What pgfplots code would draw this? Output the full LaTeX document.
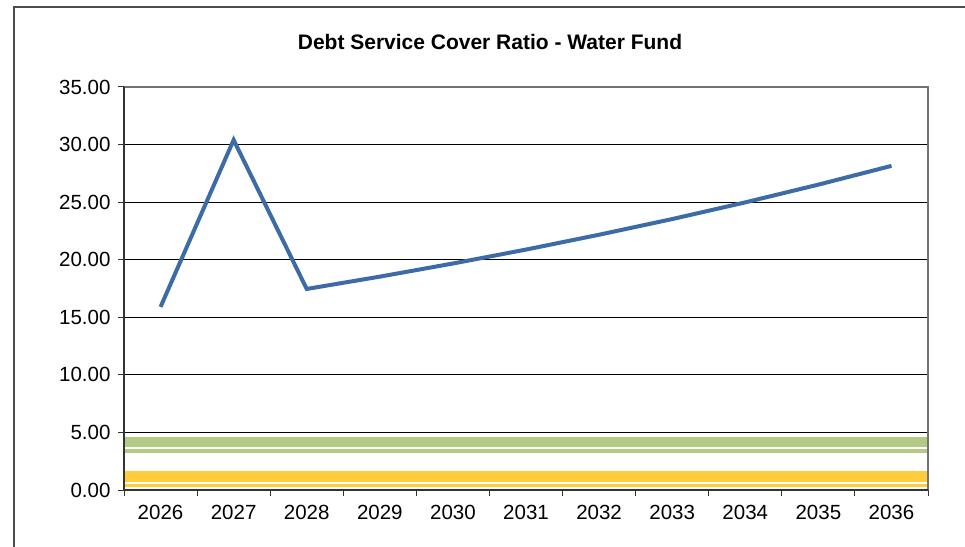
\documentclass[border=0pt]{standalone}
\usepackage{fontspec}
\setmainfont{Liberation Sans}
\usepackage{pgfplots}
\pgfplotsset{compat=1.18}
\definecolor{lineblue}{RGB}{61,107,166}
\definecolor{bandgreen}{RGB}{178,202,133}
\definecolor{bandyellow}{RGB}{255,204,60}
\begin{document}
\begin{tikzpicture}[x=1pt,y=1pt]
\path[use as bounding box] (0,0) rectangle (965,546);
\draw[line width=1.2pt, black!70] (14,-10) -- (14,539) -- (980,539);
\node[font=\fontsize{21}{24}\selectfont\bfseries] at (490,504) {Debt Service Cover Ratio - Water Fund};
\begin{axis}[
  at={(124pt,56pt)}, anchor=south west,
  scale only axis, width=804pt, height=403pt,
  xmin=-0.5, xmax=10.5, ymin=0, ymax=35,
  xtick={-0.5,0.5,...,10.5},
  x tick label as interval,
  xticklabels={2026,2027,2028,2029,2030,2031,2032,2033,2034,2035,2036},
  ytick={0,5,...,35},
  xtick pos=bottom, ytick pos=left,
  ymajorgrids, grid style={black, line width=0.9pt},
  tick align=outside, major tick length=6pt,
  tick style={black!80, line width=1pt},
  axis line style={draw=none},
  yticklabel={\pgfmathprintnumber[fixed,fixed zerofill,precision=2]{\tick}},
  /pgf/number format/assume math mode=true,
  ticklabel style={font=\fontsize{20.5}{24}\selectfont},
  yticklabel style={xshift=-4pt},
  xticklabel style={yshift=-6pt},
  clip=false,
]
\addplot[bandgreen, line width=16pt, line cap=butt] coordinates {(-0.5,3.91) (10.5,3.91)};
\addplot[white, line width=2pt, line cap=butt] coordinates {(-0.5,3.65) (10.5,3.65)};
\addplot[bandyellow, line width=16pt, line cap=butt] coordinates {(-0.5,0.96) (10.5,0.96)};
\addplot[white, line width=2pt, line cap=butt] coordinates {(-0.5,0.65) (10.5,0.65)};
\addplot[lineblue, line width=4pt, line join=miter] coordinates {
(0,15.9) (1,30.4) (2,17.46) (3,18.53) (4,19.67) (5,20.88) (6,22.17) (7,23.53) (8,24.98) (9,26.52) (10,28.15)};
\draw[black!55, line width=2pt] (rel axis cs:0,1) -- (rel axis cs:1,1) -- (rel axis cs:1,0);
\draw[black!80, line width=2pt] (rel axis cs:0,1) -- (rel axis cs:0,0);
\draw[black!80, line width=1.5pt] (rel axis cs:0,0) -- (rel axis cs:1,0);
\end{axis}
\end{tikzpicture}
\end{document}
